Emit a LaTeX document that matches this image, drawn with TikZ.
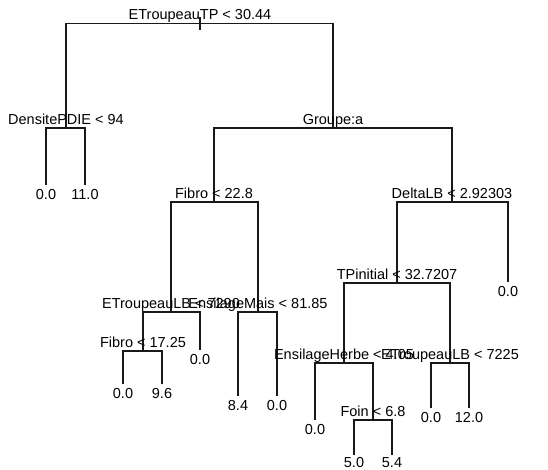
\documentclass[tikz,border=0pt]{standalone}
\usepackage{fontspec}
\setmainfont{Liberation Sans}
\begin{document}
\begin{tikzpicture}[x=1pt,y=-1pt,
  edge/.style={line width=1.1pt,black!90},
  split/.style={anchor=base,inner sep=0pt,font=\fontsize{14.5}{16}\selectfont,yshift=3.5pt},
  leaf/.style={anchor=base,inner sep=0pt,font=\fontsize{14.5}{16}\selectfont,yshift=-14.5pt}]
\useasboundingbox (0,0) rectangle (548,470);
% internal nodes (split points)
\coordinate (n1) at (200,23.5);
\coordinate (n2) at (66,128);
\coordinate (n3) at (333,128);
\coordinate (n4) at (214,202);
\coordinate (n5) at (452,202);
\coordinate (n6) at (171,312);
\coordinate (n7) at (258,312);
\coordinate (n8) at (143,351);
\coordinate (n9) at (397,283);
\coordinate (n10) at (344,363);
\coordinate (n11) at (450,363);
\coordinate (n12) at (373,420);
% leaves
\coordinate (la) at (46,185);
\coordinate (lb) at (85,185);
\coordinate (lc) at (508,282);
\coordinate (ld) at (200,350);
\coordinate (le) at (123,384);
\coordinate (lf) at (162,384);
\coordinate (lg) at (238,396);
\coordinate (lh) at (277,396);
\coordinate (li) at (315,420);
\coordinate (lj) at (431,408);
\coordinate (lk) at (469,408);
\coordinate (ll) at (354,455);
\coordinate (lm) at (392,455);
\coordinate (top) at (200,17);
\coordinate (bot) at (200,30.5);
% connectors
\draw[edge] (top) -- (bot);
\foreach \c/\p in {n2/n1,n3/n1,la/n2,lb/n2,n4/n3,n5/n3,n6/n4,n7/n4,n9/n5,lc/n5,
  n8/n6,ld/n6,le/n8,lf/n8,lg/n7,lh/n7,n10/n9,n11/n9,li/n10,n12/n10,ll/n12,lm/n12,lj/n11,lk/n11}
  \draw[edge] (\c) |- (\p);
% split labels
\node[split] (t1) at (n1) {ETroupeauTP < 30.44};
\node[split] (t2) at (n2) {DensitePDIE < 94};
\node[split] (t3) at (n3) {Groupe:a};
\node[split] (t4) at (n4) {Fibro < 22.8};
\node[split] (t5) at (n5) {DeltaLB < 2.92303};
\node[split] (t6) at (n6) {ETroupeauLB < 7290};
\node[split] (t7) at (n7) {EnsilageMais < 81.85};
\node[split] (t8) at (n8) {Fibro < 17.25};
\node[split] (t9) at (n9) {TPinitial < 32.7207};
\node[split] (t10) at (n10) {EnsilageHerbe < 4.05};
\node[split] (t11) at (n11) {ETroupeauLB < 7225};
\node[split] (t12) at (n12) {Foin < 6.8};
% leaf labels
\node[leaf] (va) at (la) {0.0};
\node[leaf] (vb) at (lb) {11.0};
\node[leaf] (vc) at (lc) {0.0};
\node[leaf] (vd) at (ld) {0.0};
\node[leaf] (ve) at (le) {0.0};
\node[leaf] (vf) at (lf) {9.6};
\node[leaf] (vg) at (lg) {8.4};
\node[leaf] (vh) at (lh) {0.0};
\node[leaf] (vi) at (li) {0.0};
\node[leaf] (vj) at (lj) {0.0};
\node[leaf] (vk) at (lk) {12.0};
\node[leaf,yshift=2pt] (vl) at (ll) {5.0};
\node[leaf,yshift=2pt] (vm) at (lm) {5.4};
\end{tikzpicture}
\end{document}
